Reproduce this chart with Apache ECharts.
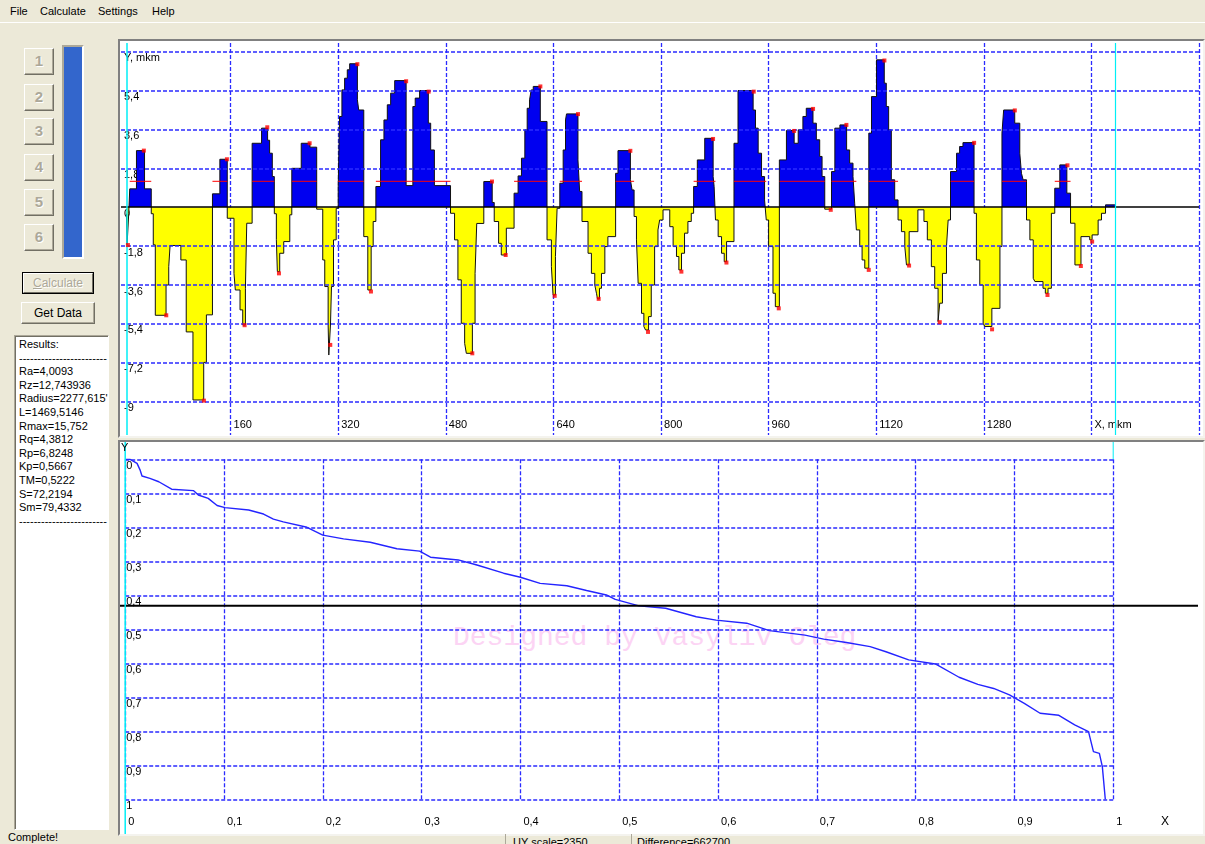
<!DOCTYPE html>
<html>
<head>
<meta charset="utf-8">
<script src="https://cdn.jsdelivr.net/npm/echarts@6/dist/echarts.min.js"></script>
<style>
html,body{margin:0;padding:0;width:1205px;height:844px;overflow:hidden;background:#ECE9D8;font-family:"Liberation Sans",Arial,sans-serif;font-size:11px;color:#000}
.a{position:absolute;white-space:nowrap}
.btn{position:absolute;box-sizing:border-box;background:#ECE9D8;border:1px solid;border-color:#fff #716F64 #716F64 #fff;box-shadow:inset -1px -1px #ACA899;text-align:center}
.num{color:#ACA899;text-shadow:1px 1px 0 #fff;font-weight:bold;font-size:15px;line-height:24px}
.frame{position:absolute;box-sizing:border-box;background:#fff;border:2px solid;border-color:#808080 #F4F3EE #F4F3EE #808080}
#res div{height:13.6px;line-height:13.6px}
#chart{position:absolute;left:0;top:0;width:1205px;height:844px}
</style>
</head>
<body>
<!-- menu -->
<div class="a" style="left:10px;top:5px">File</div>
<div class="a" style="left:40px;top:5px">Calculate</div>
<div class="a" style="left:98px;top:5px">Settings</div>
<div class="a" style="left:152px;top:5px">Help</div>
<div class="a" style="left:0;top:22px;width:1205px;height:1px;background:#fff"></div>

<!-- left panel -->
<div class="btn num" style="left:24px;top:48px;width:30px;height:27px">1</div>
<div class="btn num" style="left:24px;top:84px;width:30px;height:27px">2</div>
<div class="btn num" style="left:24px;top:118px;width:30px;height:27px">3</div>
<div class="btn num" style="left:24px;top:154px;width:30px;height:27px">4</div>
<div class="btn num" style="left:24px;top:189px;width:30px;height:27px">5</div>
<div class="btn num" style="left:24px;top:224px;width:30px;height:27px">6</div>
<div class="a" style="left:62px;top:45px;width:22px;height:214px;box-sizing:border-box;border:2px solid;border-color:#ACA899 #fff #fff #ACA899;background:#3366CC"></div>
<div class="a" style="left:22px;top:272px;width:72px;height:22px;box-sizing:border-box;border:1px solid #000;background:#ECE9D8">
  <div style="position:absolute;left:0;top:0;right:0;bottom:0;border:1px solid;border-color:#fff #716F64 #716F64 #fff;text-align:center;line-height:18px;font-size:12px;color:#ACA899;text-shadow:1px 1px 0 #fff"><u>C</u>alculate</div>
</div>
<div class="btn" style="left:21px;top:302px;width:74px;height:22px;line-height:20px;font-size:12px">Get Data</div>
<div id="res" class="a" style="left:14px;top:335px;width:95px;height:495px;box-sizing:border-box;background:#fff;border:1px solid;border-color:#ACA899 #fff #fff #ACA899;box-shadow:inset 1px 1px #716F64;padding:2px 0 0 4px;overflow:hidden">
  <div>Results:</div>
  <div>------------------------</div>
  <div>Ra=4,0093</div>
  <div>Rz=12,743936</div>
  <div>Radius=2277,615'</div>
  <div>L=1469,5146</div>
  <div>Rmax=15,752</div>
  <div>Rq=4,3812</div>
  <div>Rp=6,8248</div>
  <div>Kp=0,5667</div>
  <div>TM=0,5222</div>
  <div>S=72,2194</div>
  <div>Sm=79,4332</div>
  <div>------------------------</div>
</div>

<!-- chart frames -->
<div class="frame" style="left:118px;top:39px;width:1087px;height:399px"></div>
<div class="frame" style="left:118px;top:440px;width:1087px;height:396px"></div>
<div class="a" style="left:453px;top:622px;font-family:'Liberation Mono',monospace;font-size:28px;color:#FCD4F4">Designed by Vasyliv Oleg</div>

<!-- status bar -->
<div class="a" style="left:8px;top:831px">Complete!</div>
<div class="a" style="left:505px;top:834px;width:1px;height:10px;background:#ACA899"></div>
<div class="a" style="left:513px;top:836px">UY scale=2350</div>
<div class="a" style="left:631px;top:834px;width:1px;height:10px;background:#ACA899"></div>
<div class="a" style="left:637px;top:836px">Difference=662700</div>

<div id="chart"></div>
<script>
// profile, X in mkm, Y in mkm (value holds until next X)
const profile = [
  [5,-0.3],[6,-1.75],[8.5,-0.3],[10,0.85],[20,2.62],[32,0.85],[42,-0.3],[45,-1.74],[48,-5.0],[64,-3.6],
  [68,-2.75],[70,-1.77],[86,-2.44],[94,-5.77],[104,-8.92],[120,-7.18],[124,-4.98],[133,0.62],[144,2.22],[155,-0.51],
  [165,-3.06],[167,-3.83],[174,-4.75],[178,-5.45],[182,-3.75],[184,-0.74],[192,2.96],[206,3.66],[215,3.1],[218,2.5],
  [222,1.42],[225,-0.3],[228,-1.5],[229.5,-2.98],[233,-2.13],[239,-1.59],[248,-0.35],[251,1.8],[265,2.96],[278,2.78],
  [288,-0.09],[297,-2.44],[300,-3.67],[305,-5.45],[306,-6.84],[308.5,-5.45],[310,-3.67],[313,-1.51],[317,-0.05],[320,0.96],
  [322,4.2],[325.5,5.43],[329.5,5.97],[333.5,6.36],[337,6.64],[348.5,4.97],[350.5,4.5],[358,-1.36],[364,-3.83],[369,-1.82],
  [372,-0.66],[376,0.96],[383,3.12],[388,4.04],[393,4.74],[398,5.28],[404,5.86],[421,1.0],[431,4.66],[434.5,5.05],
  [441,5.4],[454,3.89],[457.5,2.65],[463,1.0],[487,-0.28],[493,-1.51],[498,-3.36],[503,-5.37],[508,-6.3],[510.5,-6.76],
  [519.5,-5.37],[523.5,-3.06],[526,-0.75],[536.5,1.19],[549,0.22],[552,-0.66],[558.5,-1.67],[562.5,-2.21],[570,-0.97],[581.5,0.65],
  [587.5,1.45],[592.5,2.27],[597.5,3.58],[601,4.58],[604.5,4.97],[607,5.43],[610,5.59],[620.5,3.97],[630.5,-1.51],[637,-2.75],
  [639.5,-4.06],[643,-2.28],[645.5,-0.05],[649.5,1.11],[654.5,2.65],[658,4.04],[659.5,4.32],[676.5,2.19],[679,0.73],[682.5,-0.66],
  [691.5,-2.13],[696.5,-3.06],[701.5,-3.6],[704,-3.98],[705.5,-4.24],[708.5,-3.75],[711.5,-3.06],[716.5,-1.82],[721,-1.36],[732.5,1.57],
  [736,2.62],[754.5,1.27],[757,0.8],[760,-0.43],[763.5,-1.51],[766,-3.52],[771,-4.91],[774.5,-5.52],[777,-5.68],[781.5,-5.06],
  [785.5,-3.6],[790.5,-1.82],[795.5,-1.05],[798,-0.59],[803,-0.12],[813,-0.9],[818,-1.82],[823,-2.28],[826.5,-2.9],[830.5,-2.13],
  [835,-1.2],[840,-0.66],[845,-0.28],[848.5,0.96],[854,2.19],[865,3.19],[877.5,1.42],[879,0.96],[881,-0.59],[885,-1.36],
  [890,-2.13],[894,-2.52],[897.5,-1.59],[908.5,2.96],[914.5,5.4],[937,4.5],[940.5,3.66],[944.5,2.5],[949.5,1.42],[954,0.34],
  [956.5,-0.59],[960,-1.82],[966.5,-3.98],[970,-4.6],[976,2.19],[986.5,3.55],[998,2.96],[1004,3.58],[1011,4.2],[1016,4.58],
  [1026,3.89],[1031,3.12],[1036,2.35],[1039.5,1.42],[1043.5,-0.09],[1053.5,1.65],[1058.5,3.66],[1066,3.81],[1076,2.65],[1080.5,2.04],
  [1085.5,1.42],[1088,0.19],[1090.5,-1.05],[1095.5,-1.82],[1099,-2.44],[1103,-2.82],[1109,3.43],[1113,5.12],[1120.5,6.82],[1132,5.74],
  [1135,4.66],[1138.5,3.58],[1142.5,1.27],[1147.5,0.34],[1152.5,-0.59],[1157.5,-1.13],[1162.5,-1.82],[1165,-2.67],[1169,-1.13],[1182,-0.12],
  [1191,-0.66],[1196,-1.51],[1202,-2.75],[1207,-3.75],[1212,-5.29],[1214.5,-4.44],[1218.5,-3.06],[1224.5,-1.82],[1227,-0.59],[1230.5,1.65],
  [1239.5,2.5],[1244,2.81],[1249,2.99],[1265.5,-0.28],[1269,-2.44],[1274,-3.6],[1279,-5.37],[1281.5,-5.52],[1292,-4.68],[1304,-1.82],
  [1307,3.43],[1309.5,4.5],[1326,3.89],[1333.5,2.5],[1336,1.57],[1338.5,1.27],[1343.5,-0.59],[1348.5,-1.51],[1353.5,-3.29],[1356,-3.44],
  [1368,-3.75],[1371.5,-3.98],[1375.5,-3.75],[1380.5,-0.28],[1385.5,0.88],[1393,1.96],[1403.5,0.65],[1409,-0.74],[1415.5,-2.67],[1424.5,-1.36],
  [1437.5,-1.51],[1441,-1.28],[1450,-0.59],[1455,-0.28],[1461,0.11],[1475,0.11]
]
// local peaks / valleys (red marks)
const extremes = [
  [7.3,-1.75],[31,2.62],[64.3,-5.0],[120.3,-8.95],[154.5,2.22],[180.8,-5.46],[214.5,3.7],[231.9,-3.06],[277.5,2.96],[308.2,-6.37],
  [348.5,6.62],[368.7,-3.9],[421,5.83],[454.5,5.35],[519.4,-6.76],[548.7,1.19],[569,-2.21],[620.6,5.59],[641.9,-4.1],[676.6,4.31],
  [707.3,-4.24],[754.4,2.61],[780.7,-5.77],[830.3,-2.98],[877.4,3.16],[897.3,-2.56],[937.9,5.35],[975.1,-4.68],[997.9,3.53],[1026.1,4.55],
  [1052.4,-0.12],[1075.7,3.81],[1108.9,-2.9],[1132.2,6.79],[1168.9,-2.7],[1214.5,-5.32],[1265.6,2.98],[1292.3,-5.65],[1326.1,4.48],[1374.7,-4.06],
  [1404.4,1.94],[1424.3,-2.72],[1441.1,-1.59]
]
const profileStart = 5
const profileEnd = 1475
const peakLevel = 1.2
const topXTicks = [160, 320, 480, 640, 800, 960, 1120, 1280, 1440, 1600]
const topXLabels = [160, 320, 480, 640, 800, 960, 1120, 1280, 1440]
const topYTicks = [-9, -7.2, -5.4, -3.6, -1.8, 0, 1.8, 3.6, 5.4, 7.2]

// bearing (Abbott) curve
const bearing = [
  [0,0],[0.005,0],[0.012,0.012],[0.015,0.031],[0.017,0.049],[0.025,0.056],[0.034,0.066],[0.047,0.088],[0.069,0.092],[0.074,0.105],
  [0.084,0.115],[0.093,0.136],[0.101,0.142],[0.125,0.149],[0.14,0.161],[0.15,0.176],[0.16,0.184],[0.184,0.2],[0.2,0.223],[0.221,0.234],
  [0.248,0.244],[0.275,0.263],[0.298,0.27],[0.309,0.288],[0.337,0.296],[0.356,0.311],[0.383,0.335],[0.4,0.347],[0.42,0.365],[0.447,0.372],
  [0.467,0.386],[0.487,0.399],[0.496,0.412],[0.52,0.431],[0.547,0.438],[0.578,0.463],[0.598,0.473],[0.629,0.482],[0.652,0.504],[0.688,0.517],
  [0.707,0.529],[0.73,0.539],[0.754,0.551],[0.77,0.566],[0.793,0.59],[0.82,0.602],[0.844,0.641],[0.863,0.662],[0.879,0.674],[0.895,0.693],
  [0.91,0.718],[0.926,0.747],[0.945,0.753],[0.961,0.781],[0.975,0.801],[0.98,0.86],[0.986,0.865],[0.989,0.904],[0.992,1.0]
]
const bearingTicks = [0, 0.1, 0.2, 0.3, 0.4, 0.5, 0.6, 0.7, 0.8, 0.9, 1]
const bearingLevel = 0.431

const font = '"Liberation Sans", Arial, sans-serif'
const gridBlue = '#2B2BFF'
const cyan = '#00EEF6'
const blue = '#0000F0'
const yellow = '#FFFF00'
const comma = v => String(v).replace('.', ',')

// red level lines across each raised region
const levelSegs = []
let run = null
profile.forEach(([x, y], i) => {
  const nx = i + 1 < profile.length ? profile[i + 1][0] : x
  if (y > 0) {
    if (!run) run = {start: x, max: y}
    run.max = Math.max(run.max, y)
    run.end = nx
  } else if (run) {
    if (run.max > peakLevel) levelSegs.push([run.start, peakLevel], [run.end, peakLevel], [run.end, null])
    run = null
  }
})

const dashStyle = w => ({color: gridBlue, type: [4, 2], width: w})
const lbl = {color: '#000', fontSize: 11, fontFamily: font}
// horizontal grid lines as markLines (kept under the profile fill)
const hLines = (ticks, skip) => ticks.filter(v => v !== skip).map(v => ({yAxis: v, lineStyle: dashStyle(1.6)}))

const chart = echarts.init(document.getElementById('chart'))
const option = {
  animation: false,
  grid: [
    {left: 121, top: 43, width: 1078, height: 392, containLabel: false, outerBoundsMode: 'none'},
    {left: 125.2, top: 459.3, width: 988, height: 340, containLabel: false, outerBoundsMode: 'none'}
  ],
  xAxis: [
    {gridIndex: 0, type: 'value', min: -3, max: 1600,
      axisLine: {show: false, onZero: false}, axisTick: {show: false, customValues: topXTicks},
      axisLabel: Object.assign({inside: true, customValues: topXLabels, margin: 5, align: 'left', verticalAlign: 'bottom', padding: [0, 0, 0, 3],
        formatter: v => v === 1440 ? 'X, mkm' : String(v)}, lbl),
      splitLine: {show: true, lineStyle: dashStyle(1.3)}},
    {gridIndex: 1, type: 'value', min: 0, max: 1, interval: 0.1,
      axisLine: {show: false, onZero: false}, axisTick: {show: false},
      axisLabel: Object.assign({margin: 17, align: 'left', padding: [0, 0, 0, 3], showMinLabel: true, showMaxLabel: true, formatter: comma}, lbl),
      splitLine: {show: true, lineStyle: dashStyle(1.3)}}
  ],
  yAxis: [
    {gridIndex: 0, type: 'value', min: -10.54, max: 7.6,
      axisLine: {show: false, onZero: false}, axisTick: {show: false, customValues: topYTicks},
      axisLabel: Object.assign({inside: true, customValues: topYTicks, margin: 3, align: 'left', verticalAlign: 'top', padding: [1, 0, 0, 0],
        formatter: v => v === 7.2 ? 'Y, mkm' : comma(v)}, lbl),
      splitLine: {show: false}},
    {gridIndex: 1, type: 'value', min: 0, max: 1, interval: 0.1, inverse: true,
      axisLine: {show: false, onZero: false}, axisTick: {show: false},
      axisLabel: Object.assign({inside: true, margin: 1, align: 'left', verticalAlign: 'top', padding: [1, 0, 0, 0], showMinLabel: true, showMaxLabel: true, formatter: comma}, lbl),
      splitLine: {show: false}}
  ],
  series: [
    {type: 'line', xAxisIndex: 0, yAxisIndex: 0, data: [], z: 1, silent: true,
      markLine: {silent: true, symbol: 'none', label: {show: false}, animation: false, data: hLines(topYTicks, 0)}},
    {type: 'line', xAxisIndex: 0, yAxisIndex: 0, data: profile, step: 'end', symbol: 'none',
      lineStyle: {opacity: 0}, areaStyle: {opacity: 1, color: blue}, z: 2, silent: true},
    {type: 'line', xAxisIndex: 0, yAxisIndex: 0, data: profile, step: 'end', symbol: 'none',
      lineStyle: {color: '#111', width: 1}, itemStyle: {color: '#111'}, z: 3, silent: true,
      markLine: {silent: true, symbol: 'none', label: {show: false}, animation: false,
        data: [
          {yAxis: 0, lineStyle: {color: '#000', width: 1.5, type: 'solid'}},
          {xAxis: profileStart, lineStyle: {color: cyan, width: 1.5, type: 'solid'}},
          {xAxis: profileEnd, lineStyle: {color: cyan, width: 1.2, type: 'solid'}}
        ]}},
    {type: 'line', xAxisIndex: 0, yAxisIndex: 0, data: levelSegs, symbol: 'none', connectNulls: false,
      lineStyle: {color: '#FF0000', width: 1}, z: 4, silent: true},
    {type: 'scatter', xAxisIndex: 0, yAxisIndex: 0, data: extremes, symbol: 'rect', symbolSize: 4,
      itemStyle: {color: '#FF0000'}, z: 5, silent: true},
    {type: 'line', xAxisIndex: 1, yAxisIndex: 1, data: [], z: 1, silent: true,
      markLine: {silent: true, symbol: 'none', label: {show: false}, animation: false, data: hLines(bearingTicks)}},
    {type: 'line', xAxisIndex: 1, yAxisIndex: 1, data: bearing, symbol: 'none',
      lineStyle: {color: '#2424FF', width: 1.4}, z: 3, silent: true}
  ]
}
chart.setOption(option)

// blue above the mean line, yellow below: gradient split at the pixel of Y = 0
const zTop = chart.convertToPixel({gridIndex: 0}, [0, 7.6])[1]
const zBot = chart.convertToPixel({gridIndex: 0}, [0, -10.54])[1]
const z0 = chart.convertToPixel({gridIndex: 0}, [0, 0])[1]
const f = (z0 - zTop) / (zBot - zTop)
// lines that run over the whole frame, placed from the axis scales
const lv = chart.convertToPixel({gridIndex: 1}, [0, bearingLevel])
const b0 = chart.convertToPixel({gridIndex: 1}, [0, 0])
const b1 = chart.convertToPixel({gridIndex: 1}, [1, 0])
chart.setOption({
  series: [{}, {areaStyle: {opacity: 1, color: {type: 'linear', global: true, x: 0, y: zTop, x2: 0, y2: zBot,
    colorStops: [{offset: 0, color: blue}, {offset: f, color: blue}, {offset: f, color: yellow}, {offset: 1, color: yellow}]}}}],
  graphic: [
    {type: 'line', shape: {x1: 120, y1: lv[1], x2: 1198, y2: lv[1]}, style: {stroke: '#000', lineWidth: 2}, z: 10, silent: true},
    {type: 'line', shape: {x1: b0[0], y1: 442, x2: b0[0], y2: 834}, style: {stroke: cyan, lineWidth: 1.5}, z: 10, silent: true},
    {type: 'line', shape: {x1: b1[0], y1: 442, x2: b1[0], y2: b1[1]}, style: {stroke: cyan, lineWidth: 1}, z: 10, silent: true},
    {type: 'text', x: 121, y: 442, style: {text: 'Y', font: '11px ' + font, fill: '#000'}, z: 10, silent: true},
    {type: 'text', x: 1161, y: 816, style: {text: 'X', font: '12px ' + font, fill: '#000'}, z: 10, silent: true}
  ]
})
</script>
</body>
</html>
